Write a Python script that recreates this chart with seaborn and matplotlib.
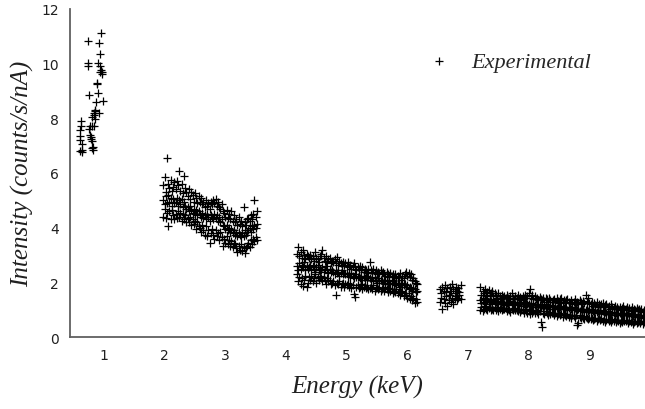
import numpy as np
import pandas as pd
import matplotlib
matplotlib.use("Agg")
import matplotlib.pyplot as plt
import seaborn as sns
from matplotlib.font_manager import FontProperties

# ---- data ----
xA = [0.60, 0.60, 0.60, 0.61, 0.62, 0.62, 0.63, 0.63, 0.64,
      0.74, 0.74, 0.74, 0.75, 0.76, 0.77, 0.77, 0.78, 0.79, 0.80, 0.80,
      0.81, 0.81, 0.82, 0.82, 0.83, 0.83, 0.84, 0.85, 0.85, 0.86,
      0.87, 0.88, 0.88, 0.90, 0.90, 0.91, 0.92, 0.93, 0.93, 0.94,
      0.95, 0.95, 0.96, 0.97, 0.98]
yA = [6.80, 7.20, 7.55, 7.35, 7.70, 7.90, 6.82, 6.75, 7.05,
      10.80, 10.00, 9.90, 8.83, 7.60, 7.40, 7.70, 7.25, 7.30, 6.90, 7.70,
      8.04, 7.15, 6.95, 6.85, 7.70, 8.10, 8.20, 8.30, 7.95, 8.25,
      8.60, 9.28, 9.25, 8.90, 10.00, 8.20, 10.75, 10.35, 9.90, 9.70,
      11.10, 9.75, 9.60, 9.70, 8.62]

xB = [1.98, 2.00, 2.02, 2.04, 2.06, 2.08, 2.10, 2.12, 2.14, 2.16,
      2.18, 2.20, 2.22, 2.24, 2.26, 2.28, 2.30, 2.32, 2.34, 2.36,
      2.38, 2.40, 2.42, 2.44, 2.46, 2.48, 2.50, 2.52, 2.54, 2.56,
      2.58, 2.60, 2.62, 2.64, 2.66, 2.68, 2.70, 2.72, 2.74, 2.76,
      2.78, 2.80, 2.82, 2.84, 2.86, 2.88, 2.90, 2.92, 2.94, 2.96,
      2.98, 3.00, 3.02, 3.04, 3.06, 3.08, 3.10, 3.12, 3.14, 3.16,
      3.18, 3.20, 3.22, 3.24, 3.26, 3.28, 3.30, 3.32, 3.34, 3.36,
      3.38, 3.40, 3.42, 3.44, 3.46, 3.48, 3.50, 3.52]
yB1 = [5.55, 5.85, 5.30, 6.55, 5.60, 5.45, 5.75, 5.35, 5.50, 5.65,
       5.40, 5.70, 5.55, 6.08, 5.35, 5.60, 5.25, 5.90, 5.45, 5.30,
       5.15, 5.40, 5.05, 5.30, 5.20, 4.95, 5.25, 5.10, 4.90, 5.15,
       4.95, 5.10, 4.85, 4.95, 4.75, 5.00, 4.80, 4.90, 4.70, 4.95,
       4.85, 5.00, 4.90, 5.05, 4.80, 4.95, 4.75, 4.70, 4.85, 4.60,
       4.55, 4.40, 4.65, 4.35, 4.50, 4.30, 4.62, 4.25, 4.45, 4.20,
       4.30, 4.10, 4.40, 4.15, 4.25, 4.05, 4.77, 4.20, 4.10, 4.30,
       4.35, 4.25, 4.45, 4.30, 4.50, 5.00, 4.40, 4.60]
yB2 = [5.00, 4.85, 5.15, 4.90, 5.20, 4.95, 5.10, 4.80, 5.05, 4.90,
       4.95, 5.10, 4.80, 5.00, 4.85, 5.05, 4.75, 4.95, 4.80, 4.70,
       4.75, 4.60, 4.80, 4.65, 4.55, 4.70, 4.50, 4.65, 4.45, 4.60,
       4.50, 4.40, 4.55, 4.35, 4.45, 4.30, 4.50, 4.40, 4.25, 4.45,
       4.40, 4.30, 4.50, 4.35, 4.45, 4.25, 4.40, 4.20, 4.30, 4.10,
       4.05, 3.95, 4.10, 3.90, 4.00, 3.85, 3.95, 3.80, 3.90, 3.75,
       3.80, 3.70, 3.85, 3.75, 3.65, 3.80, 3.70, 3.90, 3.75, 3.85,
       3.90, 4.00, 3.85, 4.05, 3.95, 4.10, 4.00, 4.15]
yB3 = [4.40, 4.70, 4.35, 4.55, 4.07, 4.60, 4.30, 4.65, 4.45, 4.30,
       4.50, 4.35, 4.60, 4.40, 4.55, 4.25, 4.50, 4.30, 4.45, 4.20,
       4.35, 4.20, 4.40, 4.10, 4.30, 4.15, 4.25, 3.95, 4.20, 4.05,
       4.00, 3.85, 4.10, 3.90, 3.75, 4.05, 3.70, 3.90, 3.43, 3.80,
       3.95, 3.75, 3.60, 3.90, 3.70, 3.80, 3.55, 3.85, 3.65, 3.34,
       3.60, 3.45, 3.70, 3.40, 3.55, 3.35, 3.50, 3.30, 3.45, 3.40,
       3.25, 3.12, 3.35, 3.20, 3.40, 3.15, 3.30, 3.06, 3.25, 3.35,
       3.45, 3.30, 3.55, 3.40, 3.60, 3.50, 3.65, 3.55]

xC = [4.18, 4.20, 4.22, 4.24, 4.26, 4.28, 4.30, 4.32, 4.34, 4.36,
      4.38, 4.40, 4.42, 4.44, 4.46, 4.48, 4.50, 4.52, 4.54, 4.56,
      4.58, 4.60, 4.62, 4.64, 4.66, 4.68, 4.70, 4.72, 4.74, 4.76,
      4.78, 4.80, 4.82, 4.84, 4.86, 4.88, 4.90, 4.92, 4.94, 4.96,
      4.98, 5.00, 5.02, 5.04, 5.06, 5.08, 5.10, 5.12, 5.14, 5.16,
      5.18, 5.20, 5.22, 5.24, 5.26, 5.28, 5.30, 5.32, 5.34, 5.36,
      5.38, 5.40, 5.42, 5.44, 5.46, 5.48, 5.50, 5.52, 5.54, 5.56,
      5.58, 5.60, 5.62, 5.64, 5.66, 5.68, 5.70, 5.72, 5.74, 5.76,
      5.78, 5.80, 5.82, 5.84, 5.86, 5.88, 5.90, 5.92, 5.94, 5.96,
      5.98, 6.00, 6.02, 6.04, 6.06, 6.08, 6.10, 6.12, 6.14, 6.16]
yC1 = [3.05, 3.28, 2.95, 3.10, 2.90, 3.18, 3.00, 2.85, 3.05, 2.95,
       2.90, 3.00, 2.85, 2.95, 2.80, 3.10, 2.90, 2.85, 2.75, 2.95,
       3.05, 3.18, 2.90, 2.80, 2.95, 2.75, 2.85, 2.90, 2.70, 2.80,
       2.75, 2.85, 2.70, 2.92, 2.65, 2.80, 2.70, 2.60, 2.75, 2.65,
       2.70, 2.60, 2.75, 2.55, 2.65, 2.50, 2.60, 2.70, 2.55, 2.45,
       2.55, 2.50, 2.60, 2.45, 2.55, 2.40, 2.50, 2.45, 2.35, 2.50,
       2.73, 2.45, 2.40, 2.50, 2.35, 2.45, 2.30, 2.40, 2.35, 2.45,
       2.35, 2.40, 2.30, 2.25, 2.40, 2.30, 2.20, 2.35, 2.25, 2.30,
       2.20, 2.30, 2.15, 2.25, 2.20, 2.35, 2.10, 2.25, 2.15, 2.30,
       2.40, 2.25, 2.35, 2.20, 2.30, 2.10, 2.15, 2.05, 2.00, 1.95]
yC2 = [2.60, 2.45, 2.70, 2.50, 2.65, 2.55, 2.75, 2.45, 2.60, 2.50,
       2.55, 2.65, 2.45, 2.60, 2.50, 2.40, 2.55, 2.65, 2.45, 2.50,
       2.45, 2.55, 2.40, 2.50, 2.60, 2.45, 2.35, 2.50, 2.40, 2.45,
       2.40, 2.30, 2.45, 2.35, 2.40, 2.25, 2.35, 2.45, 2.30, 2.35,
       2.30, 2.35, 2.25, 2.30, 2.20, 2.35, 2.25, 2.15, 2.30, 2.20,
       2.20, 2.25, 2.15, 2.25, 2.10, 2.20, 2.15, 2.25, 2.10, 2.20,
       2.15, 2.10, 2.20, 2.05, 2.15, 2.10, 2.00, 2.15, 2.05, 2.10,
       2.05, 2.00, 2.10, 1.95, 2.05, 2.00, 2.10, 1.95, 2.00, 2.05,
       1.95, 2.00, 1.90, 2.00, 1.95, 1.85, 1.95, 2.00, 1.90, 1.95,
       1.85, 1.90, 1.75, 1.85, 1.80, 1.70, 1.80, 1.75, 1.65, 1.70]
yC3 = [2.30, 2.05, 2.20, 1.95, 2.15, 1.88, 2.10, 2.25, 1.85, 2.00,
       2.20, 2.10, 2.25, 2.05, 2.15, 2.30, 2.00, 2.20, 2.10, 2.25,
       2.15, 2.05, 2.20, 2.10, 1.95, 2.15, 2.05, 2.10, 1.95, 2.00,
       2.05, 1.90, 1.54, 2.00, 1.95, 2.05, 1.85, 1.95, 2.00, 1.85,
       1.95, 1.90, 2.00, 1.85, 1.95, 1.80, 1.90, 1.57, 1.47, 1.85,
       1.90, 1.80, 1.85, 1.95, 1.75, 1.85, 1.90, 1.80, 1.85, 1.75,
       1.80, 1.85, 1.75, 1.90, 1.70, 1.80, 1.85, 1.75, 1.80, 1.70,
       1.75, 1.80, 1.70, 1.85, 1.75, 1.65, 1.80, 1.70, 1.75, 1.60,
       1.70, 1.65, 1.75, 1.60, 1.70, 1.55, 1.65, 1.70, 1.50, 1.60,
       1.55, 1.45, 1.60, 1.40, 1.50, 1.35, 1.45, 1.24, 1.40, 1.30]

xD = [6.54, 6.56, 6.58, 6.60, 6.62, 6.64, 6.66, 6.68, 6.70,
      6.72, 6.74, 6.76, 6.78, 6.80, 6.82, 6.84, 6.86, 6.88]
yD1 = [1.75, 1.60, 1.85, 1.70, 1.90, 1.65, 1.80, 1.55, 1.85,
       1.70, 1.95, 1.75, 1.60, 1.85, 1.70, 1.80, 1.65, 1.90]
yD2 = [1.30, 1.45, 1.05, 1.40, 1.25, 1.50, 1.15, 1.35, 1.55,
       1.30, 1.45, 1.20, 1.40, 1.50, 1.35, 1.45, 1.55, 1.40]

xE = [7.20, 7.22, 7.24, 7.26, 7.28, 7.30, 7.32, 7.34, 7.36, 7.38,
      7.40, 7.42, 7.44, 7.46, 7.48, 7.50, 7.52, 7.54, 7.56, 7.58,
      7.60, 7.62, 7.64, 7.66, 7.68, 7.70, 7.72, 7.74, 7.76, 7.78,
      7.80, 7.82, 7.84, 7.86, 7.88, 7.90, 7.92, 7.94, 7.96, 7.98,
      8.00, 8.02, 8.04, 8.06, 8.08, 8.10, 8.12, 8.14, 8.16, 8.18,
      8.20, 8.22, 8.24, 8.26, 8.28, 8.30, 8.32, 8.34, 8.36, 8.38,
      8.40, 8.42, 8.44, 8.46, 8.48, 8.50, 8.52, 8.54, 8.56, 8.58,
      8.60, 8.62, 8.64, 8.66, 8.68, 8.70, 8.72, 8.74, 8.76, 8.78,
      8.80, 8.82, 8.84, 8.86, 8.88, 8.90, 8.92, 8.94, 8.96, 8.98,
      9.00, 9.02, 9.04, 9.06, 9.08, 9.10, 9.12, 9.14, 9.16, 9.18,
      9.20, 9.22, 9.24, 9.26, 9.28, 9.30, 9.32, 9.34, 9.36, 9.38,
      9.40, 9.42, 9.44, 9.46, 9.48, 9.50, 9.52, 9.54, 9.56, 9.58,
      9.60, 9.62, 9.64, 9.66, 9.68, 9.70, 9.72, 9.74, 9.76, 9.78,
      9.80, 9.82, 9.84, 9.86, 9.88, 9.90, 9.92]
yE1 = [1.82, 1.55, 1.70, 1.60, 1.75, 1.50, 1.65, 1.72, 1.55, 1.60,
       1.70, 1.50, 1.62, 1.55, 1.45, 1.60, 1.52, 1.40, 1.55, 1.48,
       1.50, 1.42, 1.55, 1.45, 1.38, 1.50, 1.60, 1.45, 1.40, 1.52,
       1.45, 1.55, 1.40, 1.48, 1.35, 1.50, 1.42, 1.55, 1.45, 1.50,
       1.60, 1.76, 1.45, 1.55, 1.40, 1.50, 1.38, 1.45, 1.35, 1.48,
       1.40, 1.35, 1.45, 1.30, 1.42, 1.38, 1.30, 1.45, 1.35, 1.28,
       1.35, 1.40, 1.30, 1.42, 1.33, 1.25, 1.38, 1.45, 1.30, 1.35,
       1.28, 1.35, 1.40, 1.30, 1.25, 1.35, 1.22, 1.30, 1.38, 1.25,
       1.30, 1.22, 1.35, 1.28, 1.20, 1.32, 1.25, 1.54, 1.30, 1.42,
       1.25, 1.20, 1.30, 1.15, 1.25, 1.18, 1.28, 1.12, 1.22, 1.15,
       1.20, 1.25, 1.10, 1.18, 1.22, 1.12, 1.15, 1.05, 1.20, 1.10,
       1.08, 1.15, 1.02, 1.12, 1.05, 1.10, 0.98, 1.08, 1.15, 1.02,
       1.05, 1.10, 0.98, 1.08, 1.00, 1.12, 0.95, 1.05, 1.00, 1.08,
       0.98, 1.05, 0.95, 1.02, 0.92, 1.00, 0.95]
yE2 = [1.35, 1.25, 1.40, 1.30, 1.45, 1.20, 1.35, 1.28, 1.40, 1.32,
       1.25, 1.35, 1.20, 1.30, 1.38, 1.25, 1.32, 1.22, 1.30, 1.28,
       1.22, 1.30, 1.25, 1.18, 1.28, 1.32, 1.20, 1.25, 1.30, 1.22,
       1.25, 1.18, 1.22, 1.28, 1.15, 1.25, 1.20, 1.30, 1.18, 1.22,
       1.20, 1.15, 1.25, 1.12, 1.20, 1.18, 1.10, 1.22, 1.15, 1.18,
       1.12, 1.18, 1.08, 1.15, 1.20, 1.10, 1.15, 1.05, 1.12, 1.18,
       1.10, 1.05, 1.15, 1.08, 1.12, 1.02, 1.10, 1.15, 1.05, 1.08,
       1.05, 1.10, 1.00, 1.08, 1.12, 1.02, 1.05, 0.98, 1.08, 1.02,
       1.00, 1.05, 0.95, 1.02, 0.98, 1.05, 0.92, 1.00, 1.05, 0.95,
       0.98, 0.92, 1.02, 0.95, 0.88, 1.00, 0.92, 0.95, 0.88, 0.98,
       0.90, 0.95, 0.85, 0.92, 0.88, 0.95, 0.85, 0.90, 0.82, 0.92,
       0.88, 0.82, 0.90, 0.85, 0.80, 0.88, 0.85, 0.80, 0.88, 0.82,
       0.85, 0.80, 0.88, 0.78, 0.85, 0.82, 0.78, 0.85, 0.80, 0.75,
       0.80, 0.75, 0.82, 0.78, 0.72, 0.80, 0.76]
yE3 = [1.00, 1.10, 0.95, 1.05, 1.15, 1.02, 0.98, 1.08, 1.12, 1.00,
       1.05, 0.98, 1.10, 1.00, 1.08, 0.95, 1.05, 1.12, 1.00, 1.05,
       1.02, 1.08, 0.95, 1.05, 1.00, 0.92, 1.05, 1.00, 1.08, 0.98,
       1.00, 0.95, 1.05, 0.92, 1.00, 0.98, 0.90, 1.02, 0.95, 0.88,
       0.95, 0.85, 1.00, 0.90, 0.95, 0.88, 0.98, 0.92, 0.85, 0.95,
       0.55, 0.38, 0.90, 0.85, 0.95, 0.88, 0.80, 0.92, 0.85, 0.90,
       0.88, 0.82, 0.90, 0.78, 0.85, 0.90, 0.80, 0.86, 0.75, 0.85,
       0.82, 0.78, 0.85, 0.75, 0.80, 0.72, 0.82, 0.78, 0.70, 0.80,
       0.45, 0.52, 0.75, 0.70, 0.78, 0.72, 0.68, 0.75, 0.70, 0.65,
       0.72, 0.65, 0.70, 0.62, 0.68, 0.72, 0.60, 0.66, 0.70, 0.62,
       0.65, 0.58, 0.68, 0.55, 0.62, 0.66, 0.58, 0.64, 0.55, 0.62,
       0.60, 0.65, 0.55, 0.62, 0.58, 0.52, 0.60, 0.56, 0.62, 0.58,
       0.58, 0.62, 0.52, 0.60, 0.55, 0.58, 0.50, 0.56, 0.60, 0.54,
       0.55, 0.60, 0.52, 0.58, 0.50, 0.56, 0.54]

x_ticks = [1, 2, 3, 4, 5, 6, 7, 8, 9]
y_ticks = [0, 2, 4, 6, 8, 10, 12]
x_label = "Energy (keV)"
y_label = "Intensity (counts/s/nA)"
series_label = "Experimental"

# ---- assemble table ----
energy = (xA + xB * 3 + xC * 3 + xD * 2 + xE * 3)
intensity = (yA + yB1 + yB2 + yB3 + yC1 + yC2 + yC3 + yD1 + yD2
             + yE1 + yE2 + yE3)
df = pd.DataFrame({"energy": energy, "intensity": intensity})

# ---- figure ----
sns.set_style("white")
fig = plt.figure(figsize=(6.45, 4.10), dpi=100)
ax = fig.add_axes([70 / 645, 1 - 338.3 / 410, 1 - 70 / 645, (338.3 - 9.5) / 410])

sns.scatterplot(data=df, x="energy", y="intensity", marker="+", color="black",
                s=30, linewidth=0.9, ax=ax, label=series_label, legend=False)

ax.set_xlim(0.44, 9.918)
ax.set_ylim(0, 12)
ax.set_xticks(x_ticks)
ax.set_yticks(y_ticks)

for side in ["top", "right"]:
    ax.spines[side].set_visible(False)
for side in ["left", "bottom"]:
    ax.spines[side].set_color("#606060")
    ax.spines[side].set_linewidth(1.3)
ax.tick_params(axis="both", direction="in", length=6, width=1.1,
               color="#606060", labelsize=10, labelcolor="#202020", pad=8)
for lab in ax.get_xticklabels() + ax.get_yticklabels():
    lab.set_family("DejaVu Sans")

serif_it = FontProperties(family=["Liberation Serif", "DejaVu Serif"], style="italic", size=18)
ax.set_xlabel(x_label, fontproperties=serif_it, color="#202020", labelpad=9)
ax.set_ylabel(y_label, fontproperties=serif_it, color="#202020", labelpad=5)

leg_font = FontProperties(family=["Liberation Serif", "DejaVu Serif"], style="italic", size=16)
handles, labels = ax.get_legend_handles_labels()
leg = fig.legend(handles, labels, loc="center left", bbox_to_anchor=(397 / 645, 1 - 63 / 410),
                 frameon=False, prop=leg_font, handletextpad=0.45, markerscale=1.0)

fig.savefig("out.png", dpi=100)
